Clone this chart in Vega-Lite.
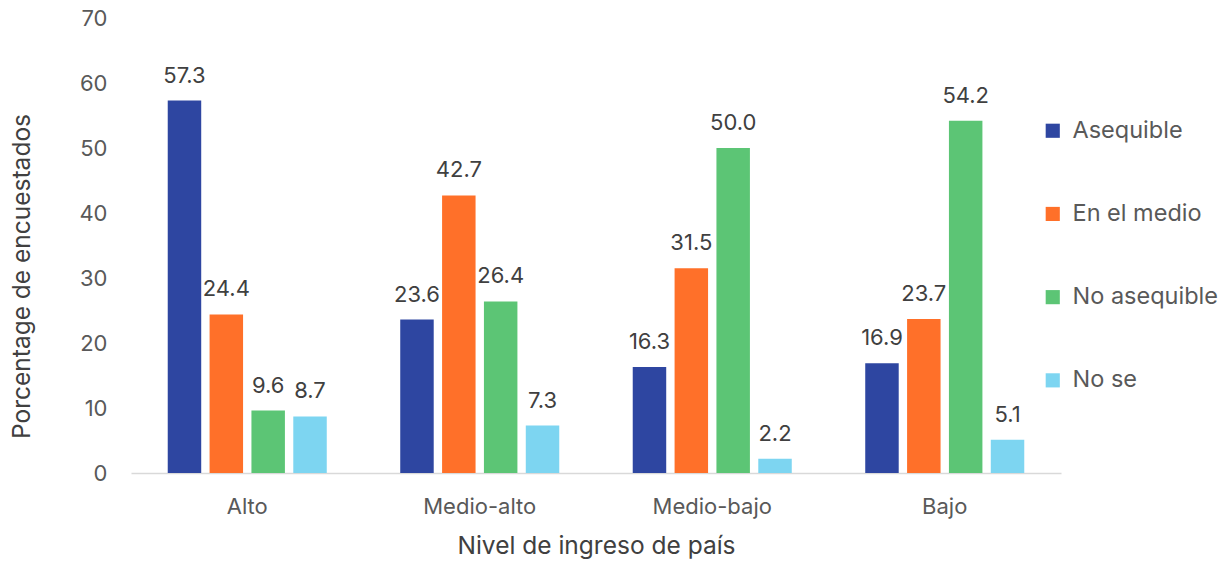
{
  "$schema": "https://vega.github.io/schema/vega-lite/v6.json",
  "width": 930,
  "height": 455,
  "autosize": "none",
  "padding": {"left": 131, "top": 18, "right": 168, "bottom": 92},
  "background": "white",
  "config": {
    "view": {"stroke": null},
    "font": "Inter",
    "axis": {"labelFont": "Inter", "titleFont": "Inter", "labelColor": "#595959", "titleColor": "#404040", "titleFontWeight": "normal"}
  },
  "data": {
    "values": [
      {"nivel": "Alto", "resp": "Asequible", "v": 57.3},
      {"nivel": "Alto", "resp": "En el medio", "v": 24.4},
      {"nivel": "Alto", "resp": "No asequible", "v": 9.6},
      {"nivel": "Alto", "resp": "No se", "v": 8.7},
      {"nivel": "Medio-alto", "resp": "Asequible", "v": 23.6},
      {"nivel": "Medio-alto", "resp": "En el medio", "v": 42.7},
      {"nivel": "Medio-alto", "resp": "No asequible", "v": 26.4},
      {"nivel": "Medio-alto", "resp": "No se", "v": 7.3},
      {"nivel": "Medio-bajo", "resp": "Asequible", "v": 16.3},
      {"nivel": "Medio-bajo", "resp": "En el medio", "v": 31.5},
      {"nivel": "Medio-bajo", "resp": "No asequible", "v": 50.0},
      {"nivel": "Medio-bajo", "resp": "No se", "v": 2.2},
      {"nivel": "Bajo", "resp": "Asequible", "v": 16.9},
      {"nivel": "Bajo", "resp": "En el medio", "v": 23.7},
      {"nivel": "Bajo", "resp": "No asequible", "v": 54.2},
      {"nivel": "Bajo", "resp": "No se", "v": 5.1}
    ]
  },
  "encoding": {
    "x": {
      "field": "nivel", "type": "nominal",
      "sort": ["Alto", "Medio-alto", "Medio-bajo", "Bajo"],
      "scale": {"paddingInner": 0.28, "paddingOuter": 0.14},
      "axis": {"title": "Nivel de ingreso de país", "labelAngle": 0, "labelFontSize": 22, "titleFontSize": 24.5, "labelPadding": 23, "titlePadding": 17, "ticks": false, "domainColor": "#D9D9D9", "domainWidth": 1.5}
    },
    "xOffset": {"field": "resp", "type": "nominal", "scale": {"paddingInner": 0.2, "paddingOuter": 0.1}},
    "y": {
      "field": "v", "type": "quantitative",
      "scale": {"domain": [0, 70]},
      "axis": {"title": "Porcentage de encuestados", "values": [0,10,20,30,40,50,60,70], "grid": false, "domain": false, "ticks": false, "labelFontSize": 22, "titleFontSize": 24.5, "labelPadding": 24, "titlePadding": 44, "titleY": 258, "titleAnchor": "middle"}
    }
  },
  "layer": [
    {
      "mark": {"type": "bar"},
      "encoding": {
        "color": {
          "field": "resp", "type": "nominal",
          "scale": {"domain": ["Asequible", "En el medio", "No asequible", "No se"], "range": ["#2E46A1", "#FF7029", "#5CC575", "#7DD5F1"]},
          "legend": {"title": null, "orient": "none", "legendX": 910, "legendY": 101, "labelFontSize": 23.5, "labelColor": "#595959", "symbolType": "square", "symbolSize": 200, "symbolStrokeWidth": 0, "rowPadding": 58.2, "labelOffset": 8, "labelFont": "Inter"}
        }
      }
    },
    {
      "mark": {"type": "text", "baseline": "bottom", "dy": -13, "fontSize": 22, "color": "#404040"},
      "encoding": {"text": {"field": "v", "type": "quantitative", "format": ".1f"}}
    }
  ]
}
